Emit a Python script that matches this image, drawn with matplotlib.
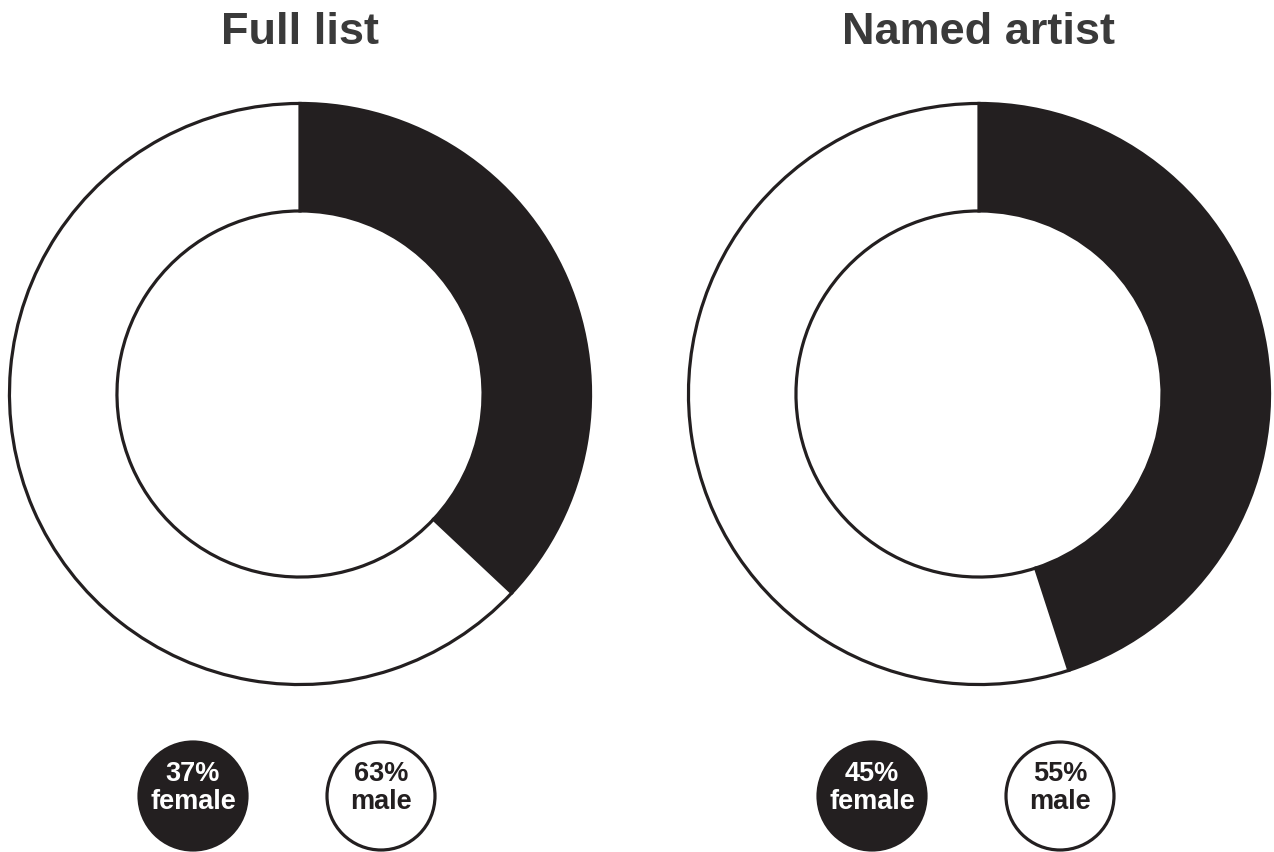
import matplotlib
matplotlib.use('Agg')
import matplotlib.pyplot as plt
from matplotlib.patches import Circle

# Дані
titles = ['Full list', 'Named artist']
female = [37, 45]
male = [63, 55]
labels = ['female', 'male']

dark = '#231f20'
title_color = '#3a3a3a'
W, H = 1274, 852

fig = plt.figure(figsize=(W / 100, H / 100), dpi=100)
fig.patch.set_facecolor('white')
plt.rcParams['font.family'] = ['Liberation Sans', 'DejaVu Sans']

centers_x = [300, 979]
cy = 394
r_out = 292

for i in range(2):
    cx = centers_x[i]
    ax = fig.add_axes([(cx - r_out) / W, (H - cy - r_out) / H, 2 * r_out / W, 2 * r_out / H])
    ax.pie([female[i], male[i]], colors=[dark, 'white'], startangle=90, counterclock=False,
           radius=0.995, wedgeprops={'width': 0.995 * 0.37, 'edgecolor': dark, 'linewidth': 2.3})
    ax.set_xlim(-1, 1)
    ax.set_ylim(-1, 1)
    ax.set_aspect('equal')
    ax.axis('off')
    fig.text(cx / W, 1 - 33 / H, titles[i], ha='center', va='center', fontsize=32.5,
             fontweight='bold', color=title_color)

# Легенда у вигляді кружечків
lax = fig.add_axes([0, 0, 1, 1])
lax.set_xlim(0, W)
lax.set_ylim(H, 0)
lax.axis('off')
for i in range(2):
    cx = centers_x[i] - 13
    for j, (val, lab) in enumerate(zip([female[i], male[i]], labels)):
        x = cx - 94 + j * 188
        face = dark if j == 0 else 'white'
        tc = 'white' if j == 0 else dark
        lax.add_patch(Circle((x, 796), 54, facecolor=face, edgecolor=dark, linewidth=2.3))
        lax.text(x, 788, f'{val}%\n{lab}', ha='center', va='center', fontsize=19.5,
                 fontweight='bold', color=tc, linespacing=1.12)

fig.savefig('out.png', dpi=100)
